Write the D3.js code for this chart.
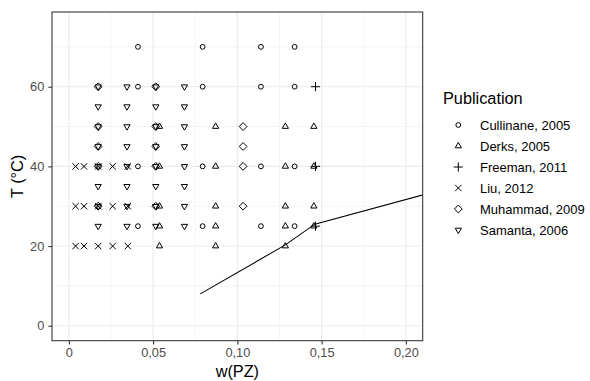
<!DOCTYPE html>
<html><head><meta charset="utf-8">
<script src="https://cdn.jsdelivr.net/npm/d3@7"></script>
<style>body{margin:0;background:#fff}svg{display:block}text{font-family:"Liberation Sans",Arial,sans-serif}</style>
</head><body><svg id="c" width="590" height="381"></svg>
<script>
// ---- data ----
const publications = ["Cullinane, 2005","Derks, 2005","Freeman, 2011","Liu, 2012","Muhammad, 2009","Samanta, 2006"];
const cullinaneW = [0.041,0.0794,0.114,0.134, 0.041,0.0794,0.114,0.134, 0.041,0.0794,0.114,0.134, 0.041,0.0794,0.114,0.134];
const cullinaneT = [25,25,25,25, 40,40,40,40, 60,60,60,60, 70,70,70,70];
const derksW = [0.0538,0.0871,0.1285, 0.0538,0.0871,0.1285,0.1454, 0.0538,0.0871,0.1285,0.1454, 0.0538,0.0871,0.1285,0.1454, 0.0538,0.0871,0.1285,0.1454];
const derksT = [20,20,20, 25,25,25,25, 30,30,30,30, 40,40,40,40, 50,50,50,50];
const freemanW = [0.1464,0.1464,0.1464];
const freemanT = [25,40,60];
const liuW = [0.004,0.009,0.0174,0.026,0.035, 0.004,0.009,0.0174,0.026,0.035, 0.004,0.009,0.0174,0.026,0.035];
const liuT = [20,20,20,20,20, 30,30,30,30,30, 40,40,40,40,40];
const muhammadW = [0.0174,0.0516,0.1034, 0.0174,0.0516,0.1034, 0.0174,0.0516,0.1034, 0.0174,0.0516,0.1034, 0.0174,0.0516];
const muhammadT = [30,30,30, 40,40,40, 45,45,45, 50,50,50, 60,60];
const samantaW = [0.0174,0.0345,0.0516,0.0686];
const samantaT = [25,30,35,40,45,50,55,60];
const curveW = [0.078,0.1285,0.146,0.215];
const curveT = [8,20.3,25.5,33.4];
const xTicks = [0,0.05,0.10,0.15,0.20];
const xTickLabels = ["0","0,05","0,10","0,15","0,20"];
const xMinor = [0.025,0.075,0.125,0.175];
const yTicks = [0,20,40,60];
const yMinor = [10,30,50,70];

// ---- build ----
const series = [
  {name:publications[0], shape:"circle", pts:cullinaneW.map((w,i)=>[w,cullinaneT[i]])},
  {name:publications[1], shape:"tri", pts:derksW.map((w,i)=>[w,derksT[i]])},
  {name:publications[2], shape:"plus", pts:freemanW.map((w,i)=>[w,freemanT[i]])},
  {name:publications[3], shape:"cross", pts:liuW.map((w,i)=>[w,liuT[i]])},
  {name:publications[4], shape:"diamond", pts:muhammadW.map((w,i)=>[w,muhammadT[i]])},
  {name:publications[5], shape:"tridown", pts:samantaT.flatMap(t=>samantaW.map(w=>[w,t]))}
];

const svg = d3.select("#c");
svg.append("rect").attr("width",590).attr("height",381).attr("fill","#fff");
const L=52, R=422.7, T=12, B=340.7;
const x = d3.scaleLinear().domain([-0.01,0.21]).range([L,R]);
const y = d3.scaleLinear().domain([-3.75,78.75]).range([B,T]);

const g = svg.append("g");
g.append("defs").append("clipPath").attr("id","clip").append("rect")
  .attr("x",L).attr("y",T).attr("width",R-L).attr("height",B-T);

// grid
g.selectAll(".xm").data(xMinor).join("line").attr("x1",d=>x(d)).attr("x2",d=>x(d)).attr("y1",T).attr("y2",B).attr("stroke","#ebebeb").attr("stroke-width",0.55);
g.selectAll(".ym").data(yMinor).join("line").attr("y1",d=>y(d)).attr("y2",d=>y(d)).attr("x1",L).attr("x2",R).attr("stroke","#ebebeb").attr("stroke-width",0.55);
g.selectAll(".xg").data(xTicks).join("line").attr("x1",d=>x(d)).attr("x2",d=>x(d)).attr("y1",T).attr("y2",B).attr("stroke","#ebebeb").attr("stroke-width",1.07);
g.selectAll(".yg").data(yTicks).join("line").attr("y1",d=>y(d)).attr("y2",d=>y(d)).attr("x1",L).attr("x2",R).attr("stroke","#ebebeb").attr("stroke-width",1.07);

// shapes
function shapePath(s){
  const p=d3.path();
  if(s==="circle"){p.arc(0,0,2.4,0,2*Math.PI);}
  else if(s==="tri"){const r=3.6;p.moveTo(0,-r);p.lineTo(r*0.866,r*0.5);p.lineTo(-r*0.866,r*0.5);p.closePath();}
  else if(s==="tridown"){const r=3.6;p.moveTo(0,r);p.lineTo(r*0.866,-r*0.5);p.lineTo(-r*0.866,-r*0.5);p.closePath();}
  else if(s==="plus"){const r=4.6;p.moveTo(-r,0);p.lineTo(r,0);p.moveTo(0,-r);p.lineTo(0,r);}
  else if(s==="cross"){const r=3.2;p.moveTo(-r,-r);p.lineTo(r,r);p.moveTo(-r,r);p.lineTo(r,-r);}
  else if(s==="diamond"){const r=3.9;p.moveTo(0,-r);p.lineTo(r,0);p.lineTo(0,r);p.lineTo(-r,0);p.closePath();}
  return p.toString();
}

const plot = g.append("g").attr("clip-path","url(#clip)");
series.forEach(s=>{
  plot.selectAll(null).data(s.pts).join("path")
    .attr("d",shapePath(s.shape))
    .attr("transform",d=>`translate(${x(d[0])},${y(d[1])})`)
    .attr("fill","none").attr("stroke","#000").attr("stroke-width",1.0);
});

// curve
plot.append("path").datum(curveW.map((w,i)=>[w,curveT[i]]))
  .attr("d",d3.line().x(d=>x(d[0])).y(d=>y(d[1])))
  .attr("fill","none").attr("stroke","#000").attr("stroke-width",1.05);

// border
g.append("rect").attr("x",L).attr("y",T).attr("width",R-L).attr("height",B-T).attr("fill","none").attr("stroke","#333").attr("stroke-width",1.07);

// axes
const xa = g.append("g").attr("transform",`translate(0,${B})`)
  .call(d3.axisBottom(x).tickValues(xTicks).tickFormat((d,i)=>xTickLabels[i]).tickSize(3.7).tickPadding(4));
const ya = g.append("g").attr("transform",`translate(${L},0)`)
  .call(d3.axisLeft(y).tickValues(yTicks).tickSize(3.7).tickPadding(4));
[xa,ya].forEach(a=>{
  a.select(".domain").remove();
  a.selectAll(".tick line").attr("stroke","#333").attr("stroke-width",1.07);
  a.selectAll(".tick text").attr("fill","#4d4d4d").style("font-size","12.8px").style("font-family","'Liberation Sans',Arial,sans-serif");
});
xa.selectAll(".tick text").attr("dy","0.71em").attr("y",7.5);

svg.append("text").attr("x",(L+R)/2).attr("y",377).attr("text-anchor","middle").style("font-size","16.3px").attr("fill","#000").text("w(PZ)");
svg.append("text").attr("transform",`translate(23,${(T+B)/2}) rotate(-90)`).attr("text-anchor","middle").style("font-size","16.3px").attr("fill","#000").text("T (°C)");

// legend
const lg = svg.append("g");
lg.append("text").attr("x",443).attr("y",104).style("font-size","16.3px").attr("fill","#000").text("Publication");
series.forEach((s,i)=>{
  const cy = 125 + i*21;
  lg.append("path").attr("d",shapePath(s.shape)).attr("transform",`translate(458.3,${cy})`)
    .attr("fill","none").attr("stroke","#000").attr("stroke-width",1.0);
  lg.append("text").attr("x",480).attr("y",cy+4.6).style("font-size","13px").attr("fill","#000").text(s.name);
});
</script></body></html>
